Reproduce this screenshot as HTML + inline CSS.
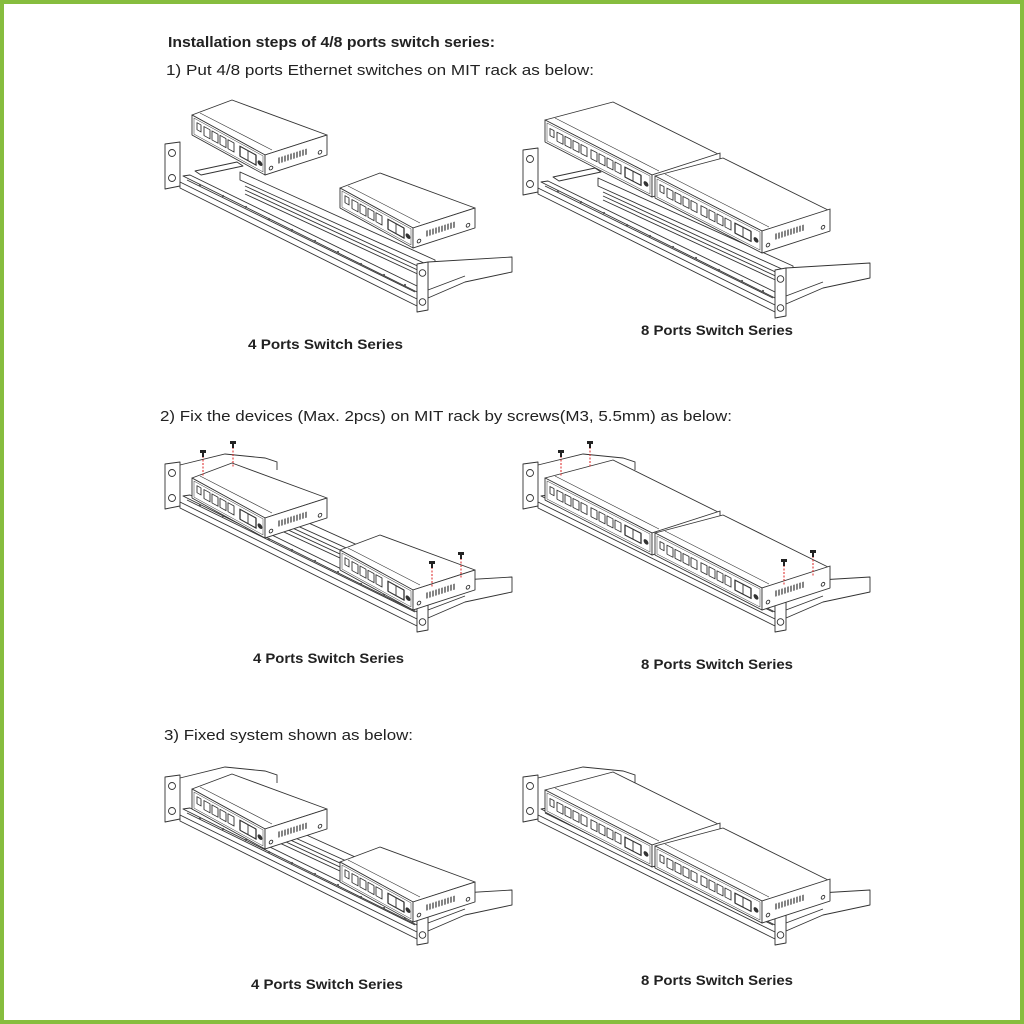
<!DOCTYPE html>
<html><head><meta charset="utf-8"><style>
html,body{margin:0;padding:0;background:#fff}
svg{display:block}
text{font-family:"Liberation Sans",Arial,sans-serif;fill:#222}
</style></head><body>
<svg width="1024" height="1024" viewBox="0 0 1024 1024" xmlns="http://www.w3.org/2000/svg">
<defs>
<g id="rack" fill="#fff" stroke="#333" stroke-width="0.9" stroke-linejoin="round">
  <polygon points="75,30 270,118 270,126 75,38"/>
  <line x1="80" y1="44" x2="272" y2="133"/>
  <line x1="80" y1="48" x2="272" y2="137"/>
  <line x1="80" y1="52" x2="272" y2="141"/>
  <polygon points="263,120 347,115 347,130 300,140 263,156"/>
  <line x1="263" y1="148" x2="300" y2="134"/>
  <polygon points="0,2 15,0 15,44 0,47"/>
  <circle cx="7" cy="11" r="3.5"/><circle cx="7" cy="36" r="3.5"/>
  <polygon points="30,29 72,20 78,24 36,33"/>
  <polygon points="18,34 25,33 252,144 252,150"/>
  <line x1="22" y1="38" x2="250" y2="150"/>
  <polygon points="15,40 15,46 252,164 252,157"/>
  <g fill="#555" stroke="none">
    <circle cx="35" cy="43" r="1.1"/><circle cx="58" cy="54" r="1.1"/><circle cx="81" cy="65" r="1.1"/><circle cx="104" cy="77" r="1.1"/><circle cx="127" cy="88" r="1.1"/><circle cx="150" cy="99" r="1.1"/><circle cx="173" cy="110" r="1.1"/><circle cx="196" cy="122" r="1.1"/><circle cx="219" cy="133" r="1.1"/><circle cx="240" cy="143" r="1.1"/>
  </g>
  <polygon points="252,122 263,120 263,168 252,170"/>
  <circle cx="257.5" cy="131" r="3.3"/><circle cx="257.5" cy="160" r="3.3"/>
</g>
<g id="sw4" stroke="#333" stroke-width="0.9" stroke-linejoin="round">
  <polygon fill="#fff" points="0,0 40,-15 135,20 73,40"/>
  <line x1="8" y1="-2" x2="80" y2="35" stroke-width="0.6"/>
  <g transform="skewY(28.7)">
    <rect x="0" y="0" width="73" height="20" fill="#fff"/>
    <rect x="2" y="2" width="69" height="16" fill="none" stroke-width="0.5"/>
    <rect x="5" y="5" width="4" height="7" fill="#fff"/>
    <rect x="12" y="5" width="6" height="9" fill="#fff"/><rect x="20" y="5" width="6" height="9" fill="#fff"/><rect x="28" y="5" width="6" height="9" fill="#fff"/><rect x="36" y="5" width="6" height="9" fill="#fff"/>
    <rect x="48" y="5" width="16" height="10" fill="#fff" stroke-width="1.3"/>
    <line x1="56" y1="5" x2="56" y2="15"/>
    <circle cx="68" cy="11" r="2" fill="#333"/>
  </g>
  <g transform="translate(73,40) skewY(-17.9)">
    <rect x="0" y="0" width="62" height="20" fill="#fff"/>
    <path d="M14,7v6M17,7v6M20,7v6M23,7v6M26,7v6M29,7v6M32,7v6M35,7v6M38,7v6M41,7v6" stroke-width="1.2"/>
    <circle cx="6" cy="15" r="1.8" fill="#fff"/><circle cx="55" cy="15" r="1.8" fill="#fff"/>
  </g>
</g>
<g id="sw8" stroke="#333" stroke-width="0.9" stroke-linejoin="round">
  <polygon fill="#fff" points="0,0 68,-18 175,35 107,55"/>
  <line x1="10" y1="-2" x2="114" y2="51" stroke-width="0.6"/>
  <g transform="skewY(27.2)">
    <rect x="0" y="0" width="107" height="22" fill="#fff"/>
    <rect x="2" y="2" width="103" height="18" fill="none" stroke-width="0.5"/>
    <rect x="5" y="6" width="4" height="7" fill="#fff"/>
    <rect x="12" y="6" width="6" height="9" fill="#fff"/><rect x="20" y="6" width="6" height="9" fill="#fff"/><rect x="28" y="6" width="6" height="9" fill="#fff"/><rect x="36" y="6" width="6" height="9" fill="#fff"/>
    <rect x="46" y="6" width="6" height="9" fill="#fff"/><rect x="54" y="6" width="6" height="9" fill="#fff"/><rect x="62" y="6" width="6" height="9" fill="#fff"/><rect x="70" y="6" width="6" height="9" fill="#fff"/>
    <rect x="80" y="6" width="16" height="10" fill="#fff" stroke-width="1.3"/>
    <line x1="88" y1="6" x2="88" y2="16"/>
    <circle cx="101" cy="12" r="2" fill="#333"/>
  </g>
  <g transform="translate(107,55) skewY(-17.9)">
    <rect x="0" y="0" width="68" height="22" fill="#fff"/>
    <path d="M14,7v6M17,7v6M20,7v6M23,7v6M26,7v6M29,7v6M32,7v6M35,7v6M38,7v6M41,7v6" stroke-width="1.2"/>
    <circle cx="6" cy="16" r="1.8" fill="#fff"/><circle cx="61" cy="16" r="1.8" fill="#fff"/>
  </g>
</g>
<g id="cover" fill="#fff" stroke="#333" stroke-width="0.9">
  <path d="M15,3 L60,-8 L100,-4 L112,0 L112,8"/>
  <path d="M300,112 L300,120 L270,126"/>
</g>
<g id="screw">
  <line x1="0" y1="4" x2="0" y2="24" stroke="#d22" stroke-width="1" stroke-dasharray="2,1.5"/>
  <rect x="-3" y="-2" width="6" height="3" fill="#222"/><rect x="-1" y="1" width="2" height="4" fill="#222"/>
</g>
</defs>
<rect x="2" y="2" width="1020" height="1020" fill="none" stroke="#86bd3e" stroke-width="4"/>

<text x="168" y="47" font-size="15" font-weight="bold" textLength="327" lengthAdjust="spacingAndGlyphs">Installation steps of 4/8 ports switch series:</text>
<text x="166" y="75" font-size="15" textLength="428" lengthAdjust="spacingAndGlyphs">1) Put 4/8 ports Ethernet switches on MIT rack as below:</text>
<text x="160" y="421" font-size="15" textLength="572" lengthAdjust="spacingAndGlyphs">2) Fix the devices (Max. 2pcs) on MIT rack by screws(M3, 5.5mm) as below:</text>
<text x="164" y="740" font-size="15" textLength="249" lengthAdjust="spacingAndGlyphs">3) Fixed system shown as below:</text>

<g font-size="14" font-weight="bold">
<text x="248" y="349" textLength="155" lengthAdjust="spacingAndGlyphs">4 Ports  Switch Series</text>
<text x="641" y="335" textLength="152" lengthAdjust="spacingAndGlyphs">8 Ports Switch Series</text>
<text x="253" y="663" textLength="151" lengthAdjust="spacingAndGlyphs">4 Ports Switch Series</text>
<text x="641" y="669" textLength="152" lengthAdjust="spacingAndGlyphs">8 Ports Switch Series</text>
<text x="251" y="989" textLength="152" lengthAdjust="spacingAndGlyphs">4 Ports Switch Series</text>
<text x="641" y="985" textLength="152" lengthAdjust="spacingAndGlyphs">8 Ports Switch Series</text>
</g>

<use href="#rack" transform="translate(165,142)"/>
<use href="#sw4" transform="translate(192,115)"/>
<use href="#sw4" transform="translate(340,188)"/>
<use href="#rack" transform="translate(523,148)"/>
<use href="#sw8" transform="translate(545,120)"/>
<use href="#sw8" transform="translate(655,176)"/>

<use href="#rack" transform="translate(165,462)"/>
<use href="#cover" transform="translate(165,462)"/>
<use href="#sw4" transform="translate(192,478)"/>
<use href="#sw4" transform="translate(340,550)"/>
<use href="#screw" transform="translate(203,452)"/>
<use href="#screw" transform="translate(233,443)"/>
<use href="#screw" transform="translate(432,563)"/>
<use href="#screw" transform="translate(461,554)"/>
<use href="#rack" transform="translate(523,462)"/>
<use href="#cover" transform="translate(523,462)"/>
<use href="#sw8" transform="translate(545,478)"/>
<use href="#sw8" transform="translate(655,533)"/>
<use href="#screw" transform="translate(561,452)"/>
<use href="#screw" transform="translate(590,443)"/>
<use href="#screw" transform="translate(784,561)"/>
<use href="#screw" transform="translate(813,552)"/>

<use href="#rack" transform="translate(165,775)"/>
<use href="#cover" transform="translate(165,775)"/>
<use href="#sw4" transform="translate(192,789)"/>
<use href="#sw4" transform="translate(340,862)"/>
<use href="#rack" transform="translate(523,775)"/>
<use href="#cover" transform="translate(523,775)"/>
<use href="#sw8" transform="translate(545,790)"/>
<use href="#sw8" transform="translate(655,846)"/>
</svg>
</body></html>
